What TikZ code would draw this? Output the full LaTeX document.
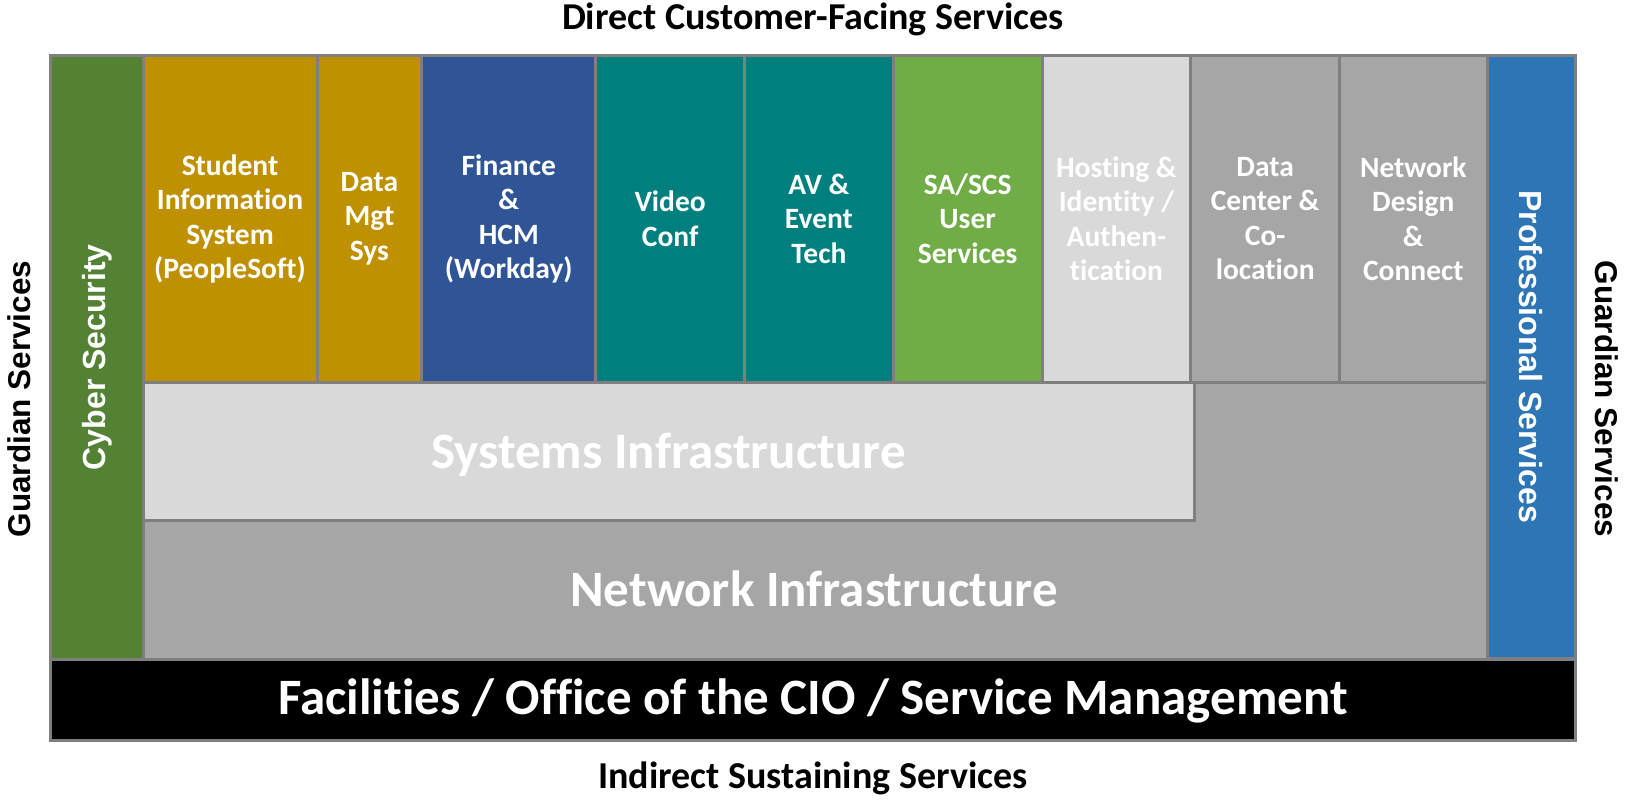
\documentclass[tikz,border=0pt]{standalone}
\usepackage{fontspec}
\setmainfont{Carlito}[Ligatures={NoCommon}]
\newfontfamily\arialfont{Liberation Sans}
\definecolor{bordergray}{HTML}{7F7F7F}
\definecolor{cybergreen}{HTML}{548235}
\definecolor{goldc}{HTML}{BF9000}
\definecolor{finblue}{HTML}{2F5597}
\definecolor{tealc}{HTML}{007F7F}
\definecolor{sagreen}{HTML}{70AD47}
\definecolor{lightg}{HTML}{D9D9D9}
\definecolor{midg}{HTML}{A6A6A6}
\definecolor{profblue}{HTML}{2E75B6}
\tikzset{
  box/.style={draw=bordergray, line width=3pt},
  coltext/.style={text=white, font=\bfseries\fontsize{29.5}{34.5}\selectfont, align=center, inner sep=0pt},
  bigtext/.style={text=white, font=\bfseries\fontsize{51}{60}\selectfont, inner sep=0pt, anchor=base},
  sidetext/.style={text=white, font=\arialfont\bfseries\fontsize{32}{38}\selectfont, inner sep=0pt},
  guardtext/.style={text=black, font=\arialfont\bfseries\fontsize{31.5}{38}\selectfont, inner sep=0pt},
  titletext/.style={text=black, font=\bfseries\fontsize{38}{44}\selectfont, inner sep=0pt, anchor=base}
}
\begin{document}
\begin{tikzpicture}[x=1pt,y=-1pt]
\useasboundingbox (0,0) rectangle (1627,800);
% outer frame
\draw[box] (50.5,55.5) rectangle (1575.5,740.5);
% network infrastructure
\draw[box, fill=midg] (143,382) rectangle (1487.2,659);
% systems infrastructure
\draw[box, fill=lightg] (143,382) rectangle (1194,520);
% columns
\draw[box, fill=goldc] (143,55.5) rectangle (317,382);
\draw[box, fill=goldc] (317,55.5) rectangle (421.8,382);
\draw[box, fill=finblue] (421.8,55.5) rectangle (595.8,382);
\draw[box, fill=tealc] (595.8,55.5) rectangle (744.5,382);
\draw[box, fill=tealc] (744.5,55.5) rectangle (893.3,382);
\draw[box, fill=sagreen] (893.3,55.5) rectangle (1042,382);
\draw[box, fill=lightg] (1042,55.5) rectangle (1190.8,382);
\draw[box, fill=midg] (1190.8,55.5) rectangle (1339.5,382);
\draw[box, fill=midg] (1339.5,55.5) rectangle (1487.2,382);
% side columns
\draw[box, fill=cybergreen] (50.5,55.5) rectangle (143,659);
\draw[box, fill=profblue] (1487.2,55.5) rectangle (1575.5,658);
% facilities
\draw[box, fill=black] (50.5,659) rectangle (1575.5,740.5);

% texts
\node[coltext] (sis) at (230,218.75) {Student\\Information\\System\\(PeopleSoft)};
\node[coltext] (dms) at (369.4,218.75) {Data\\Mgt\\Sys};
\node[coltext] (fin) at (508.8,218.75) {Finance\\\&\\HCM\\(Workday)};
\node[coltext] (vid) at (670.15,218.75) {Video\\Conf};
\node[coltext] (av) at (818.9,218.75) {AV \&\\Event\\Tech};
\node[coltext] (sa) at (967.65,218.75) {SA/SCS\\User\\Services};
\node[coltext] (host) at (1116.4,218.75) {Hosting \&\\Identity /\\Authen-\\tication};
\node[coltext] (dc) at (1265.15,218.75) {Data\\Center \&\\Co-\\location};
\node[coltext] (nd) at (1413.35,218.75) {Network\\Design\\\&\\Connect};

\node[sidetext, rotate=90] (cyber) at (96.75,357.25) {Cyber Security};
\node[sidetext, rotate=-90] (prof) at (1531.35,356.75) {Professional Services};

\node[bigtext] (sys) at (668.5,468) {Systems Infrastructure};
\node[bigtext] (net) at (814,606) {Network Infrastructure};
\node[bigtext] (fac) at (813,714) {Facilities / Office of the CIO / Service Management};

\node[titletext] (top) at (813,29.5) {Direct Customer-Facing Services};
\node[titletext] (bot) at (813,788) {Indirect Sustaining Services};
\node[guardtext, rotate=90] (gl) at (19,399) {Guardian Services};
\node[guardtext, rotate=-90] (gr) at (1607,399) {Guardian Services};
\end{tikzpicture}
\end{document}
